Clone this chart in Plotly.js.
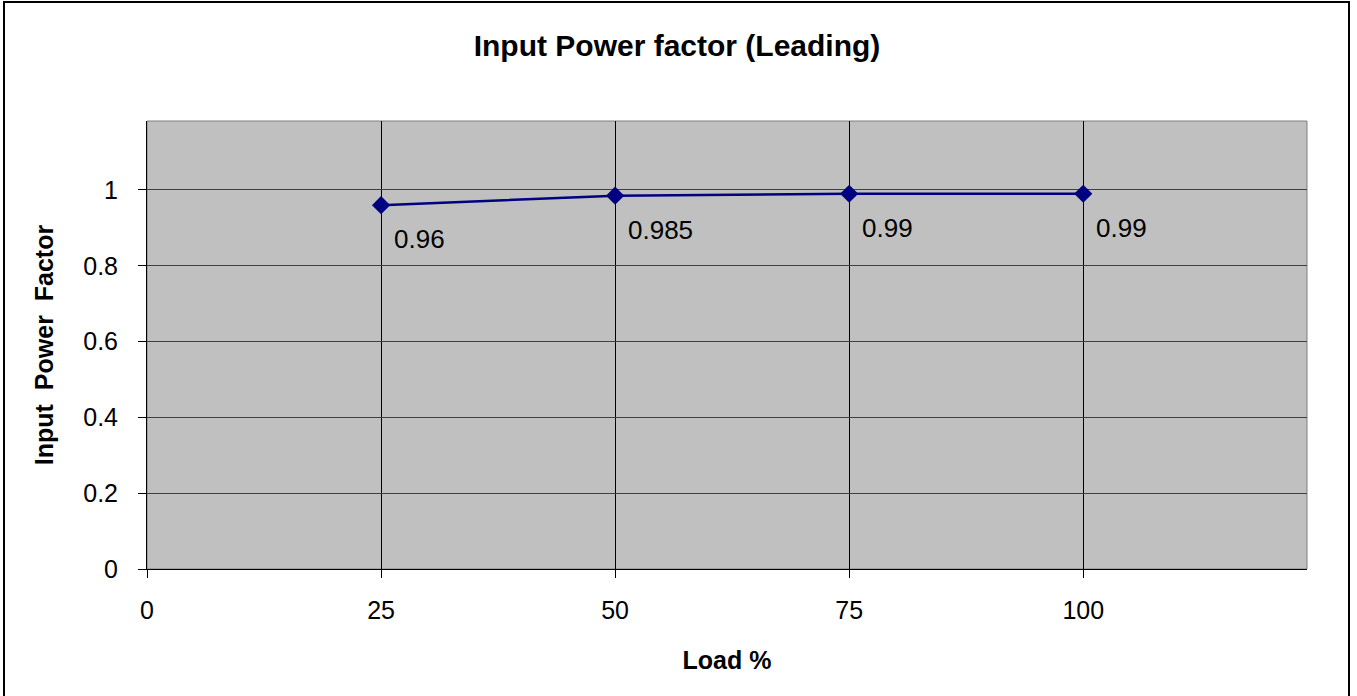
<!DOCTYPE html>
<html>
<head>
<meta charset="utf-8">
<script src="https://cdn.plot.ly/plotly-3.0.1.min.js"></script>
<style>
  html, body { margin: 0; padding: 0; background: #fff; }
  #wrap { position: relative; width: 1357px; height: 696px; }
  #chart { width: 1357px; height: 696px; }
  #frame { position: absolute; left: 3px; top: 1px; width: 1343px; height: 700px;
           border-left: 2px solid #000; border-top: 2px solid #000; border-right: 2px solid #000;
           pointer-events: none; }
</style>
</head>
<body>
<div id="wrap">
  <div id="chart"></div>
  <div id="frame"></div>
</div>
<script>
const loadPct = [25, 50, 75, 100];
const powerFactor = [0.96, 0.985, 0.99, 0.99];
const pointLabels = ['0.96', '0.985', '0.99', '0.99'];
const xTicks = [0, 25, 50, 75, 100];
const yTicks = [0, 0.2, 0.4, 0.6, 0.8, 1];
const yTickLabels = ['0', '0.2', '0.4', '0.6', '0.8', '1'];

const font = 'Liberation Sans, Arial, sans-serif';

const trace = {
  x: loadPct,
  y: powerFactor,
  type: 'scatter',
  mode: 'lines+markers',
  line: { color: '#000080', width: 2.5 },
  marker: { symbol: 'diamond', size: 14, color: '#000080' },
  hoverinfo: 'x+y'
};

const annotations = loadPct.map((x, i) => ({
  x: x, y: powerFactor[i], xref: 'x', yref: 'y',
  text: pointLabels[i], showarrow: false,
  xanchor: 'left', yanchor: 'middle',
  xshift: 11, yshift: -34,
  font: { family: font, size: 26, color: '#000' }
}));

const layout = {
  width: 1357, height: 696,
  paper_bgcolor: 'rgba(0,0,0,0)',
  plot_bgcolor: '#C0C0C0',
  margin: { l: 147, r: 50, t: 121, b: 127 },
  showlegend: false,
  title: {
    text: '<b>Input Power factor (Leading)</b>',
    font: { family: font, size: 30, color: '#000' },
    x: 677 / 1357, xref: 'container', xanchor: 'center',
    y: 1 - 45 / 696, yref: 'container', yanchor: 'middle'
  },
  xaxis: {
    range: [0, 123.9],
    tickmode: 'array', tickvals: xTicks, ticktext: xTicks.map(String),
    showgrid: true, gridcolor: '#000', gridwidth: 1,
    zeroline: false,
    showline: true, linecolor: '#000', linewidth: 1,
    ticks: 'outside', ticklen: 8, tickcolor: '#000', tickwidth: 1,
    ticklabelstandoff: 11,
    tickfont: { family: font, size: 25, color: '#000' },
    title: { text: '<b>Load %</b>', font: { family: font, size: 25, color: '#000' }, standoff: 28 }
  },
  yaxis: {
    range: [0, 1.182],
    tickmode: 'array', tickvals: yTicks, ticktext: yTickLabels,
    showgrid: true, gridcolor: '#404040', gridwidth: 1,
    zeroline: false,
    showline: true, linecolor: '#000', linewidth: 1,
    ticks: 'outside', ticklen: 8, tickcolor: '#000', tickwidth: 1,
    ticklabelstandoff: 15,
    tickfont: { family: font, size: 25, color: '#000' },
    title: { text: '<b>Input\u00a0 Power\u00a0 Factor</b>', font: { family: font, size: 25, color: '#000' }, standoff: 22 }
  },
  shapes: [{
    type: 'rect', xref: 'paper', yref: 'paper', x0: 0, x1: 1, y0: 0, y1: 1,
    line: { color: '#808080', width: 1 }, layer: 'below'
  }],
  annotations: annotations
};

Plotly.newPlot('chart', [trace], layout, { displayModeBar: false });
</script>
</body>
</html>
